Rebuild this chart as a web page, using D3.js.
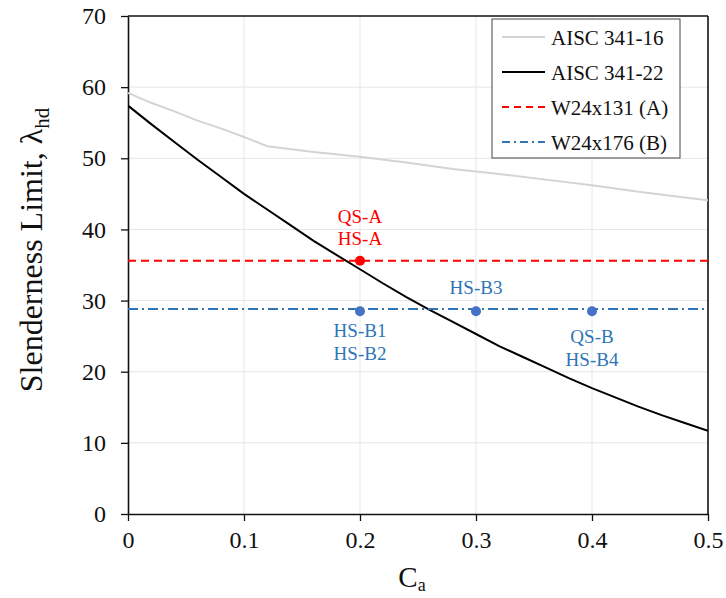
<!DOCTYPE html>
<html>
<head>
<meta charset="utf-8">
<script src="https://cdn.jsdelivr.net/npm/d3@7/dist/d3.min.js"></script>
<style>
  html, body { margin: 0; padding: 0; background: #fff; }
  svg, svg text { font-family: "Liberation Serif", Tinos, "Times New Roman", "DejaVu Serif", serif; }
  svg { display: block; }
</style>
</head>
<body>
<svg id="chart" width="726" height="598"></svg>
<script>
// Axial load ratio Ca and slenderness limits
const caAisc16 = [0, 0.02, 0.04, 0.06, 0.08, 0.10, 0.12, 0.16, 0.20, 0.24, 0.28, 0.32, 0.36, 0.40, 0.44, 0.48, 0.50];
const lambdaAisc16 = [59.2, 57.8, 56.6, 55.3, 54.2, 53.0, 51.7, 50.9, 50.2, 49.4, 48.5, 47.8, 47.0, 46.2, 45.3, 44.5, 44.1];

const caAisc22 = [0, 0.02, 0.04, 0.06, 0.08, 0.10, 0.12, 0.14, 0.16, 0.18, 0.20, 0.22, 0.24, 0.26, 0.28, 0.30, 0.32, 0.34, 0.36, 0.38, 0.40, 0.42, 0.44, 0.46, 0.48, 0.50];
const lambdaAisc22 = [57.4, 54.8, 52.3, 49.8, 47.4, 45.0, 42.8, 40.6, 38.4, 36.4, 34.4, 32.4, 30.5, 28.7, 27.0, 25.3, 23.6, 22.1, 20.6, 19.1, 17.7, 16.4, 15.1, 13.9, 12.8, 11.7];

// Section slenderness of the two column sizes
const sectionNames = ["W24x131 (A)", "W24x176 (B)"];
const sectionLambda = [35.6, 28.8];

// Test specimens
const specimenCa = [0.2, 0.2, 0.3, 0.4];
const specimenLambda = [35.6, 28.5, 28.5, 28.5];
const specimenSection = ["A", "B", "B", "B"];
const specimenLabels = [["QS-A", "HS-A"], ["HS-B1", "HS-B2"], ["HS-B3"], ["QS-B", "HS-B4"]];

const xTicks = [0, 0.1, 0.2, 0.3, 0.4, 0.5];
const yTicks = [0, 10, 20, 30, 40, 50, 60, 70];
const legendNames = ["AISC 341-16", "AISC 341-22", sectionNames[0], sectionNames[1]];

const FONT = "'Liberation Serif', Tinos, 'Times New Roman', 'DejaVu Serif', serif";
const svg = d3.select("#chart").attr("font-family", FONT);
const pLeft = 128, pRight = 708, pTop = 16, pBottom = 514;

const x = d3.scaleLinear().domain([0, 0.5]).range([pLeft, pRight]);
const y = d3.scaleLinear().domain([0, 70]).range([pBottom, pTop]);

const RED = "#ff0000", BLUE = "#2e75b6", DOT_BLUE = "#4472c4", GRAY = "#d4d4d4";

// gridlines
const grid = svg.append("g");
grid.selectAll("line.gx").data(xTicks.slice(1, -1)).join("line")
  .attr("x1", d => x(d)).attr("x2", d => x(d)).attr("y1", pTop).attr("y2", pBottom)
  .attr("stroke", "#e6e6e6").attr("stroke-width", 1);
grid.selectAll("line.gy").data(yTicks.slice(1, -1)).join("line")
  .attr("x1", pLeft).attr("x2", pRight).attr("y1", d => y(d)).attr("y2", d => y(d))
  .attr("stroke", "#e6e6e6").attr("stroke-width", 1);

// axes
const xAxis = svg.append("g").attr("transform", `translate(0,${pBottom})`)
  .call(d3.axisBottom(x).tickValues(xTicks).tickFormat(d => d === 0 ? "0" : d3.format(".1f")(d)).tickSize(7).tickSizeOuter(0).tickPadding(10));
const yAxis = svg.append("g").attr("transform", `translate(${pLeft},0)`)
  .call(d3.axisLeft(y).tickValues(yTicks).tickSize(7).tickSizeOuter(0).tickPadding(15));
[xAxis, yAxis].forEach(a => {
  a.attr("font-family", FONT).attr("font-size", 24);
  a.select(".domain").attr("stroke", "#111").attr("stroke-width", 1.6);
  a.selectAll(".tick line").attr("stroke", "#111").attr("stroke-width", 1.3);
  a.selectAll(".tick text").attr("fill", "#111").attr("font-family", FONT).attr("font-size", 24);
});

// top and right frame
svg.append("line").attr("x1", pLeft).attr("x2", pRight).attr("y1", pTop).attr("y2", pTop)
  .attr("stroke", "#111").attr("stroke-width", 1.6);
svg.append("line").attr("x1", pRight).attr("x2", pRight).attr("y1", pTop).attr("y2", pBottom)
  .attr("stroke", "#111").attr("stroke-width", 1.6);

// clip the series to the plot area
svg.append("clipPath").attr("id", "plotClip").append("rect")
  .attr("x", pLeft).attr("y", pTop).attr("width", pRight - pLeft).attr("height", pBottom - pTop);
const plot = svg.append("g").attr("clip-path", "url(#plotClip)");

const line = d3.line().x(d => x(d[0])).y(d => y(d[1]));

plot.append("path").datum(d3.zip(caAisc16, lambdaAisc16)).attr("d", line)
  .attr("fill", "none").attr("stroke", GRAY).attr("stroke-width", 2);
plot.append("path").datum(d3.zip(caAisc22, lambdaAisc22)).attr("d", line)
  .attr("fill", "none").attr("stroke", "#000").attr("stroke-width", 2);

// section lines
plot.append("line").attr("x1", x(0)).attr("x2", x(0.5))
  .attr("y1", y(sectionLambda[0])).attr("y2", y(sectionLambda[0]))
  .attr("stroke", RED).attr("stroke-width", 2).attr("stroke-dasharray", "8,5");
plot.append("line").attr("x1", x(0)).attr("x2", x(0.5))
  .attr("y1", y(sectionLambda[1])).attr("y2", y(sectionLambda[1]))
  .attr("stroke", BLUE).attr("stroke-width", 2).attr("stroke-dasharray", "10,4,2,4");

// specimen markers
const colorOf = s => s === "A" ? RED : DOT_BLUE;
plot.selectAll("circle.spec").data(specimenCa.map((c, i) => i)).join("circle")
  .attr("cx", i => x(specimenCa[i])).attr("cy", i => y(specimenLambda[i]))
  .attr("r", 5).attr("fill", i => colorOf(specimenSection[i]));

// specimen labels: first line offset (px) from the marker, lines 22.5 px apart
const labelOffsets = [-38, 26, -17, 32];
specimenLabels.forEach((lines, i) => {
  const t = svg.append("text")
    .attr("x", x(specimenCa[i]))
    .attr("text-anchor", "middle")
    .attr("font-family", FONT).attr("font-size", 19)
    .attr("fill", specimenSection[i] === "A" ? RED : BLUE);
  lines.forEach((s, k) => {
    t.append("tspan").attr("x", x(specimenCa[i]))
      .attr("y", y(specimenLambda[i]) + labelOffsets[i] + k * 22.5).text(s);
  });
});

// legend
const lg = svg.append("g");
lg.append("rect").attr("x", 492).attr("y", 19).attr("width", 188).attr("height", 139)
  .attr("fill", "#fff").attr("stroke", "#444").attr("stroke-width", 1);
const legendStyles = [
  { color: GRAY, dash: null },
  { color: "#000", dash: null },
  { color: RED, dash: "7,5" },
  { color: BLUE, dash: "8,4,2,4" }
];
legendNames.forEach((name, i) => {
  const cy = 37 + i * 35;
  lg.append("line").attr("x1", 502).attr("x2", 545).attr("y1", cy).attr("y2", cy)
    .attr("stroke", legendStyles[i].color).attr("stroke-width", 2)
    .attr("stroke-dasharray", legendStyles[i].dash);
  lg.append("text").attr("x", 551).attr("y", cy + 7.5)
    .attr("font-family", FONT).attr("font-size", 21)
    .attr("fill", "#111").text(name);
});

// axis titles
const xt = svg.append("text").attr("x", 412).attr("y", 587).attr("text-anchor", "middle")
  .attr("font-family", FONT).attr("font-size", 29).attr("fill", "#111");
xt.append("tspan").text("C");
xt.append("tspan").attr("dy", 4).attr("font-size", 18).text("a");

const yt = svg.append("text")
  .attr("transform", "translate(42,250) rotate(-90)")
  .attr("text-anchor", "middle")
  .attr("font-family", FONT).attr("font-size", 32).attr("fill", "#111");
yt.append("tspan").text("Slenderness Limit, λ");
yt.append("tspan").attr("dy", 7).attr("font-size", 21).text("hd");
</script>
</body>
</html>
